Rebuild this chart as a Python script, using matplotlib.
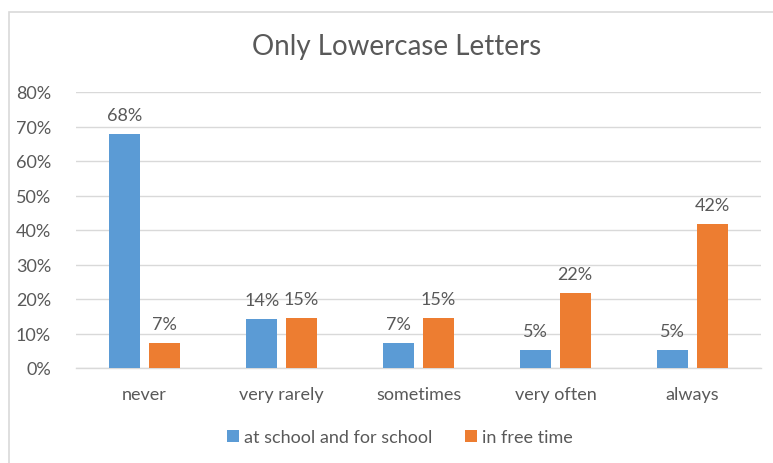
import matplotlib
matplotlib.use("Agg")
import matplotlib.pyplot as plt
import numpy as np
from matplotlib.patches import Rectangle

categories = ["never", "very rarely", "sometimes", "very often", "always"]
school = [67.7, 14.1, 7.2, 5.2, 5.2]
free_time = [7.2, 14.6, 14.6, 21.7, 41.8]
series_names = ["at school and for school", "in free time"]
yticks = [0, 10, 20, 30, 40, 50, 60, 70, 80]

plt.rcParams['font.family'] = ['Lato', 'DejaVu Sans']
TXT = "#595959"
BLUE = "#5B9BD5"
ORANGE = "#ED7D31"
FS = 13

fig = plt.figure(figsize=(7.73, 4.64), dpi=100)
fig.patch.set_facecolor("white")
# chart frame
fig.add_artist(Rectangle((8.5/773, -0.1), 1.2, 1 - 12.5/464 + 0.1, transform=fig.transFigure,
                         fill=False, edgecolor="#D9D9D9", linewidth=1.2))

ax = fig.add_axes([76/773, 1 - 369/464, (761 - 76)/773, (369 - 93)/464])
x = np.arange(len(categories))
w = 0.226
off = 0.143
b1 = ax.bar(x - off, school, w, color=BLUE, label=series_names[0], zorder=3)
b2 = ax.bar(x + off, free_time, w, color=ORANGE, label=series_names[1], zorder=3)

for bars, vals in ((b1, school), (b2, free_time)):
    for r, v in zip(bars, vals):
        ax.annotate(f"{round(v):d}%", (r.get_x() + r.get_width() / 2, v),
                    xytext=(0, 8), textcoords="offset points", ha="center", va="bottom",
                    fontsize=FS, color=TXT)

ax.set_xlim(-0.5, len(categories) - 0.5)
ax.set_ylim(0, 80)
ax.set_yticks(yticks)
ax.set_yticklabels([f"{t}%" for t in yticks])
ax.set_xticks(x)
ax.set_xticklabels(categories)
ax.tick_params(axis="both", length=0, colors=TXT, labelsize=FS)
ax.tick_params(axis="y", pad=18)
ax.tick_params(axis="x", pad=13)
ax.yaxis.grid(True, color="#D9D9D9", linewidth=1.0, zorder=0)
for s in ("top", "right", "left"):
    ax.spines[s].set_visible(False)
ax.spines["bottom"].set_color("#D9D9D9")
ax.spines["bottom"].set_linewidth(1.0)

fig.text(397/773, 1 - 47/464, "Only Lowercase Letters", ha="center", va="center",
         fontsize=20, color=TXT)

leg = fig.legend(handles=[b1, b2], loc="center", bbox_to_anchor=(400/773, 1 - 438/464),
                 ncol=2, frameon=False, fontsize=FS, handlelength=0.65, handleheight=0.65,
                 handletextpad=0.3, columnspacing=1.8)
for t in leg.get_texts():
    t.set_color(TXT)

fig.savefig("out.png", dpi=100)
